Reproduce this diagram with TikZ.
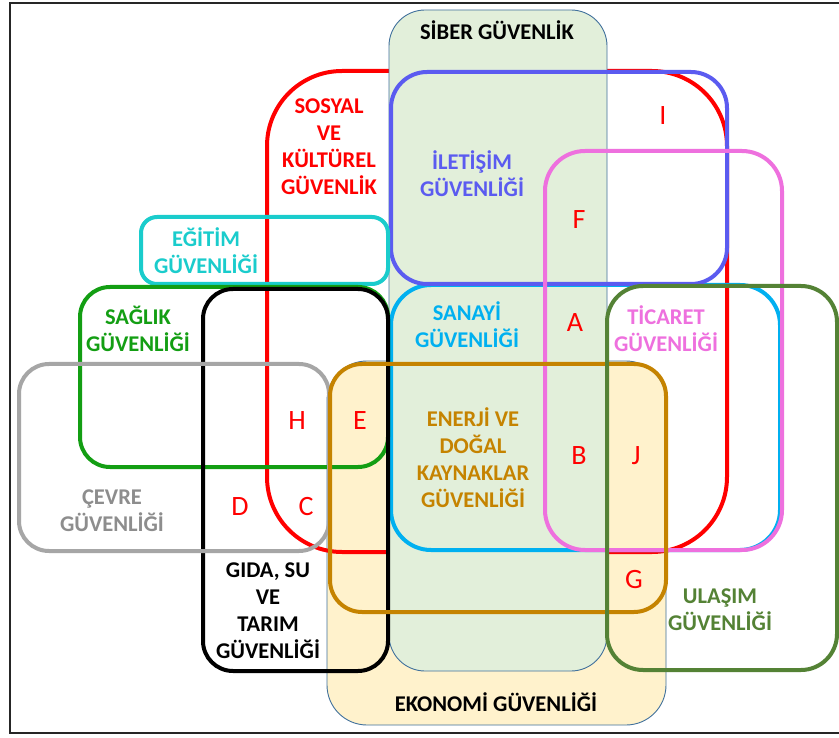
\documentclass[tikz,border=0pt]{standalone}
\usepackage{fontspec}
\setmainfont{Carlito}
\definecolor{cred}{HTML}{FF0000}
\definecolor{cblue}{HTML}{5B5BF0}
\definecolor{cpink}{HTML}{EE70DE}
\definecolor{ccyan}{HTML}{00B0F0}
\definecolor{cturq}{HTML}{1ACCCC}
\definecolor{cgreen}{HTML}{139E13}
\definecolor{cgray}{HTML}{A6A6A6}
\definecolor{cbrown}{HTML}{C58300}
\definecolor{colive}{HTML}{548235}
\definecolor{fgreen}{HTML}{E2EFDA}
\definecolor{fyellow}{HTML}{FFF2CC}
\definecolor{cthin}{HTML}{41719C}
\begin{document}
\begin{tikzpicture}[x=1pt,y=-1pt,
  setbox/.style={line width=4pt},
  bigbox/.style={draw=cthin,line width=0.9pt},
  lbl/.style={font=\fontsize{22.5}{27}\selectfont\bfseries,align=center,inner sep=0pt},
  zone/.style={font=\fontsize{28}{30}\selectfont,text=cred,inner sep=0pt}]
\useasboundingbox (0,0) rectangle (839,738);
\fill[white] (0,0) rectangle (839,738);
% frame
\draw[line width=2pt,black!85] (839,3) -- (9.5,3) -- (9.5,733) -- (839,733);
% filled sets and the red set below the cyber set
\draw[bigbox,fill=fyellow,rounded corners=40pt] (327,361) rectangle (666,725);
\draw[setbox,draw=cred,rounded corners=75pt] (267,71) rectangle (727,552);
\draw[bigbox,fill=fgreen,rounded corners=36pt] (389,10) rectangle (607,671);
% outlined sets
\draw[setbox,draw=ccyan,rounded corners=40pt] (391,285) rectangle (780,550);
\draw[setbox,draw=cblue,rounded corners=36pt] (391,72) rectangle (727,284);
\draw[setbox,draw=cpink,rounded corners=40pt] (545,151) rectangle (782,550);
\draw[setbox,draw=cturq,rounded corners=16pt] (141,217) rectangle (388,284);
\draw[setbox,draw=cgreen,rounded corners=30pt] (80,287) rectangle (388,467);
\draw[setbox,draw=black,rounded corners=30pt] (203,289) rectangle (388,671);
\draw[setbox,draw=cgray,rounded corners=30pt] (19,364) rectangle (329,551);
\draw[setbox,draw=cbrown,rounded corners=32pt] (330,364) rectangle (666,612);
\draw[setbox,draw=colive,rounded corners=36pt] (607,286) rectangle (837,670);
% labels
\node[lbl,text=black] (siber) at (497,30) {SİBER GÜVENLİK};
\node[lbl,text=cred] (sosyal) at (329,147) {SOSYAL\\VE\\KÜLTÜREL\\GÜVENLİK};
\node[lbl,text=cblue] (iletisim) at (472,174) {İLETİŞİM\\GÜVENLİĞİ};
\node[lbl,text=cturq] (egitim) at (206,251) {EĞİTİM\\GÜVENLİĞİ};
\node[lbl,text=cgreen] (saglik) at (138,329) {SAĞLIK\\GÜVENLİĞİ};
\node[lbl,text=ccyan] (sanayi) at (467,325) {SANAYİ\\GÜVENLİĞİ};
\node[lbl,text=cpink] (ticaret) at (666,329) {TİCARET\\GÜVENLİĞİ};
\node[lbl,text=cbrown] (enerji) at (473,458) {ENERJİ VE\\DOĞAL\\KAYNAKLAR\\GÜVENLİĞİ};
\node[lbl,text=cgray!85!black] (cevre) at (112,511) {ÇEVRE\\GÜVENLİĞİ};
\node[lbl,text=black] (gida) at (268,611) {GIDA, SU\\VE\\TARIM\\GÜVENLİĞİ};
\node[lbl,text=black] (ekonomi) at (496,702) {EKONOMİ GÜVENLİĞİ};
\node[lbl,text=colive] (ulasim) at (720,610) {ULAŞIM\\GÜVENLİĞİ};
% region letters
\node[zone] (zI) at (663,116) {I};
\node[zone] (zF) at (579,220) {F};
\node[zone] (zA) at (575,323) {A};
\node[zone] (zH) at (297,421) {H};
\node[zone] (zE) at (360,421) {E};
\node[zone] (zB) at (579,456) {B};
\node[zone] (zJ) at (636,456) {J};
\node[zone] (zD) at (240,507) {D};
\node[zone] (zC) at (306,507) {C};
\node[zone] (zG) at (634,580) {G};
\end{tikzpicture}
\end{document}
